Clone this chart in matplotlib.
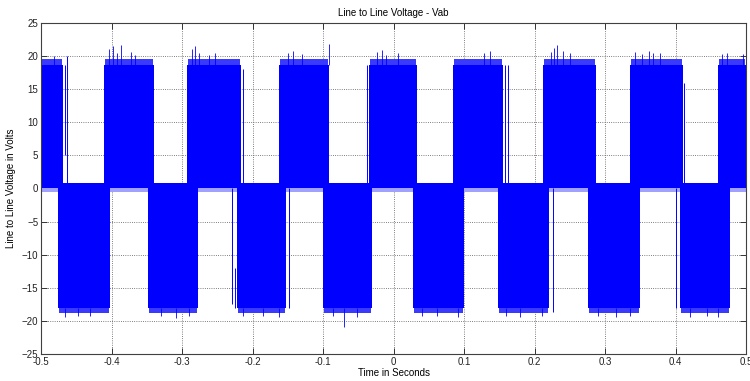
"""Line to line PWM voltage plot (Vab), MATLAB style."""

import matplotlib

matplotlib.use("Agg")

import matplotlib.pyplot as plt

# time limits of the record
t_range = [-0.5, 0.5]

# positive conduction blocks (s) and levels (V)
pos_start = [-0.5, -0.4106, -0.2929, -0.1624, -0.0348, 0.0844, 0.2121, 0.3355, 0.4603]
pos_end = [-0.4688, -0.3397, -0.2163, -0.0915, 0.0333, 0.1553, 0.2872, 0.4106, 0.5]
pos_level = 18.7
pos_ripple = 19.5

# negative conduction blocks (s) and levels (V)
neg_start = [-0.4759, -0.3482, -0.2220, -0.1000, 0.0277, 0.1482, 0.2759, 0.4064]
neg_end = [-0.4021, -0.2773, -0.1525, -0.0305, 0.1000, 0.2206, 0.3496, 0.4773]
neg_level = -18.0
neg_ripple = -18.8

# small band around zero between blocks
zero_band = 0.77
zero_ripple = -0.5

# tall switching spikes on top of the positive blocks
pos_spike_t = [-0.481, -0.404, -0.398, -0.392, -0.386, -0.372, -0.366, -0.286, -0.282,
               -0.276, -0.262, -0.253, -0.150, -0.142, -0.130, -0.092, -0.024, -0.017,
               -0.010, 0.006, 0.128, 0.137, 0.224, 0.228, 0.232, 0.240, 0.250, 0.342,
               0.352, 0.362, 0.368, 0.378, 0.466, 0.473, 0.496]
pos_spike_v = [20.0, 21.0, 21.6, 20.4, 21.7, 20.6, 20.2, 21.0, 21.6, 20.5, 20.2, 20.4,
               20.5, 20.8, 20.3, 21.8, 20.6, 20.9, 20.2, 20.4, 20.5, 20.8, 20.6, 21.2,
               21.7, 20.7, 20.4, 20.6, 20.3, 20.8, 20.5, 20.4, 20.3, 20.5, 20.3]

# downward spikes under the negative blocks
neg_spike_t = [-0.466, -0.448, -0.430, -0.330, -0.308, -0.290, -0.214, -0.185, -0.162,
               -0.086, -0.070, -0.052, 0.040, 0.062, 0.092, 0.160, 0.180, 0.210, 0.290,
               0.316, 0.336, 0.420, 0.444, 0.460]
neg_spike_v = [-19.4, -19.2, -19.3, -19.3, -19.5, -19.3, -19.2, -19.3, -19.4, -19.3,
               -20.9, -19.4, -19.3, -19.3, -19.4, -19.3, -19.4, -19.3, -19.3, -19.4,
               -19.3, -19.4, -19.3, -19.4]

# isolated switching edges: time, lower and upper value
edge_t = [-0.466, -0.463, -0.229, -0.225, -0.213, -0.148, -0.0376, 0.158, 0.163, 0.2262, 0.412, 0.4007]
edge_lo = [5.0, 0.0, -17.5, -18.0, 0.0, -18.0, 0.0, 0.0, 0.0, -18.7, 0.8, -18.0]
edge_hi = [18.7, 20.0, 0.0, -12.0, 18.0, 0.0, 18.7, 18.7, 18.7, 0.0, 16.0, 0.0]

x_ticks = [-0.5, -0.4, -0.3, -0.2, -0.1, 0, 0.1, 0.2, 0.3, 0.4, 0.5]
x_labels = ["-0.5", "-0.4", "-0.3", "-0.2", "-0.1", "0", "0.1", "0.2", "0.3", "0.4", "0.5"]
y_ticks = [-25, -20, -15, -10, -5, 0, 5, 10, 15, 20, 25]

BLUE = "#0000ff"
RIPPLE = "#3a3aff"
ZERO_RIPPLE = "#a0a0ff"

plt.rcParams["font.family"] = ["Liberation Sans", "DejaVu Sans"]
plt.rcParams["font.size"] = 7

fig = plt.figure(figsize=(7.5, 3.81), dpi=100)
ax = fig.add_axes([0.0547, 0.0709, 0.9400, 0.8687])

# zero band across the whole record
ax.fill_between(t_range, 0, zero_band, color=BLUE, lw=0)
ax.fill_between(t_range, zero_ripple, 0, color=ZERO_RIPPLE, lw=0)

for t0, t1 in zip(pos_start, pos_end):
    ax.fill_between([t0, t1], 0, pos_level, color=BLUE, lw=0)
    ax.fill_between([t0 + 0.002, t1 - 0.002], pos_level, pos_ripple, color=RIPPLE, lw=0)

for t0, t1 in zip(neg_start, neg_end):
    ax.fill_between([t0, t1], neg_level, 0, color=BLUE, lw=0)
    ax.fill_between([t0 + 0.002, t1 - 0.002], neg_ripple, neg_level, color=RIPPLE, lw=0)

ax.vlines(pos_spike_t, pos_level, pos_spike_v, color=BLUE, lw=0.6)
ax.vlines(neg_spike_t, neg_spike_v, neg_level, color=BLUE, lw=0.6)
ax.vlines(edge_t, edge_lo, edge_hi, color=BLUE, lw=0.7)

ax.set_xlim(-0.5, 0.5)
ax.set_ylim(-25, 25)
ax.set_xticks(x_ticks)
ax.set_xticklabels(x_labels)
ax.set_yticks(y_ticks)
ax.set_axisbelow(True)
ax.grid(True, linestyle=":", color="#555555", lw=0.6)
ax.tick_params(direction="in", top=True, right=True, length=4, width=0.7,
               color="#333333", labelcolor="#222222", pad=2)
for spine in ax.spines.values():
    spine.set_color("#404040")
    spine.set_linewidth(0.8)

ax.set_title("Line to Line Voltage - Vab", fontsize=7, pad=5)
ax.set_xlabel("Time in Seconds", fontsize=7, labelpad=1)
ax.set_ylabel("Line to Line Voltage in Volts", fontsize=7, labelpad=4)

fig.savefig("out.png", dpi=100)
plt.close(fig)
